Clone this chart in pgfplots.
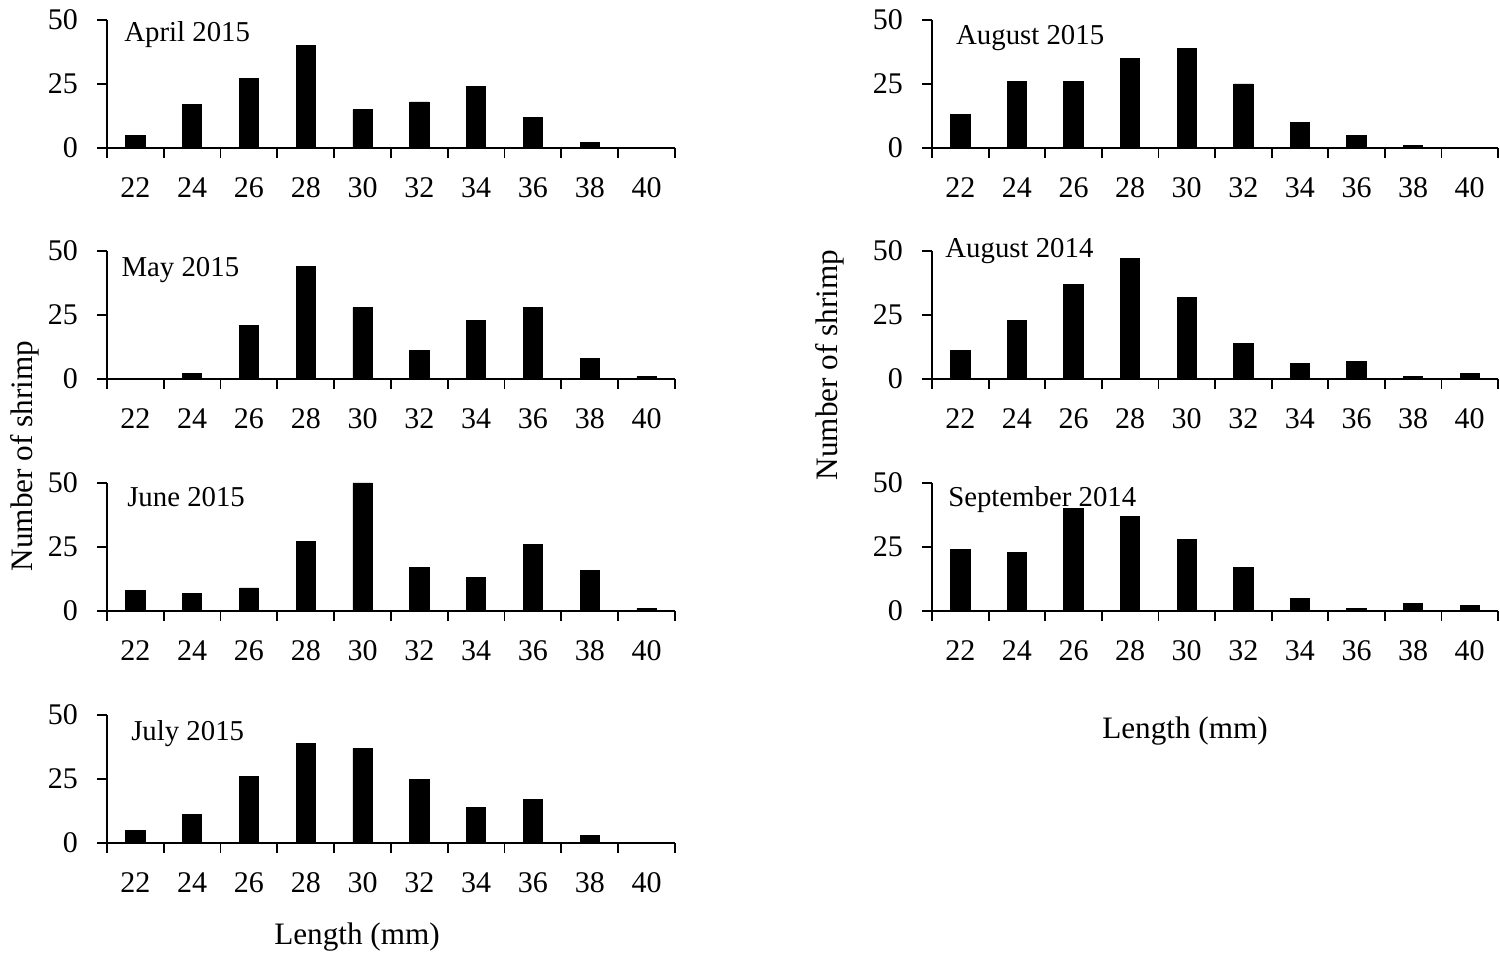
\documentclass[border=0pt]{standalone}
\usepackage{fontspec}
\setmainfont{Liberation Serif}
\usepackage{pgfplots}
\pgfplotsset{compat=1.18}
\usepackage{pgfplotstable}

% Length-frequency counts per sampling month (2 mm classes)
\pgfplotstableread{
idx len apr may jun jul augA augB sep
0 22  5  0  8  5 13 11 24
1 24 17  2  7 11 26 23 23
2 26 27 21  9 26 26 37 40
3 28 40 44 27 39 35 47 37
4 30 15 28 50 37 39 32 28
5 32 18 11 17 25 25 14 17
6 34 24 23 13 14 10  6  5
7 36 12 28 26 17  5  7  1
8 38  2  8 16  3  1  1  3
9 40  0  1  1  0  0  2  2
}\shrimp

\newcommand{\fs}{\fontsize{14.4}{17}\selectfont}
\newcommand{\ft}{\fontsize{15}{18}\selectfont}
\newcommand{\fa}{\fontsize{15.6}{19}\selectfont}

\tikzset{monthlabel/.style={anchor=base west, inner sep=0pt, font=\fs}}

\pgfplotsset{
  panel/.style={
    scale only axis, height=64pt,
    xmin=-0.5, xmax=9.5, ymin=0, ymax=50,
    axis x line*=bottom, axis y line*=left,
    axis line style={-, line width=0.9pt, black},
    xtick={0,...,9},
    xticklabels={22,24,26,28,30,32,34,36,38,40},
    minor xtick={-0.5,0.5,...,9.5},
    major x tick style={draw=none},
    ytick={0,25,50},
    tick align=outside,
    major tick length=5pt, minor tick length=5pt,
    tick style={black, line width=0.9pt},
    ticklabel style={font=\ft},
    xticklabel style={yshift=-6pt, text height=10pt, text depth=0pt},
    yticklabel style={xshift=-6pt},
    /pgf/number format/assume math mode=true,
    clip=false,
  },
  bars/.style={ybar, bar width=0.34, fill=black, draw=black, line width=0.4pt},
}

\begin{document}
\begin{tikzpicture}[x=1pt,y=1pt]
\path[use as bounding box] (0,0) rectangle (750,477.5);

% left column
\begin{axis}[panel, width=284pt, at={(53.5pt,403.5pt)}, anchor=south west]
  \addplot[bars] table[x=idx, y=apr] {\shrimp};
  \node[monthlabel] at (rel axis cs:0.03,0.83) {April 2015};
\end{axis}
\begin{axis}[panel, width=284pt, at={(53.5pt,288pt)}, anchor=south west]
  \addplot[bars] table[x=idx, y=may] {\shrimp};
  \node[monthlabel] at (rel axis cs:0.025,0.8) {May 2015};
\end{axis}
\begin{axis}[panel, width=284pt, at={(53.5pt,172pt)}, anchor=south west]
  \addplot[bars] table[x=idx, y=jun] {\shrimp};
  \node[monthlabel] at (rel axis cs:0.035,0.82) {June 2015};
\end{axis}
\begin{axis}[panel, width=284pt, at={(53.5pt,56pt)}, anchor=south west]
  \addplot[bars] table[x=idx, y=jul] {\shrimp};
  \node[monthlabel] at (rel axis cs:0.042,0.8) {July 2015};
\end{axis}

% right column
\begin{axis}[panel, width=283pt, at={(466pt,403.5pt)}, anchor=south west]
  \addplot[bars] table[x=idx, y=augA] {\shrimp};
  \node[monthlabel] at (rel axis cs:0.042,0.805) {August 2015};
\end{axis}
\begin{axis}[panel, width=283pt, at={(466pt,288pt)}, anchor=south west]
  \addplot[bars] table[x=idx, y=augB] {\shrimp};
  \node[monthlabel] at (rel axis cs:0.023,0.95) {August 2014};
\end{axis}
\begin{axis}[panel, width=283pt, at={(466pt,172pt)}, anchor=south west]
  \addplot[bars] table[x=idx, y=sep] {\shrimp};
  \node[monthlabel] at (rel axis cs:0.028,0.82) {September 2014};
\end{axis}

% shared axis titles
\node[rotate=90, font=\fa] at (12.5,249.5) {Number of shrimp};
\node[rotate=90, font=\fa] at (415,295) {Number of shrimp};
\node[font=\fa] at (178.5,9) {Length (mm)};
\node[font=\fa] at (592.5,112) {Length (mm)};
\end{tikzpicture}
\end{document}
